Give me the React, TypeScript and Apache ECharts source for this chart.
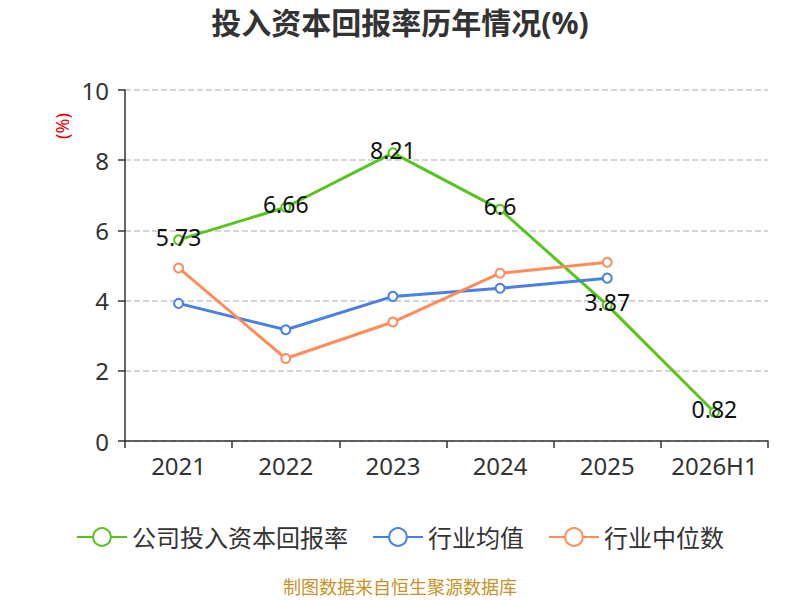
import React, { useEffect, useRef } from "react";
import * as echarts from "echarts";

const categories = ["2021", "2022", "2023", "2024", "2025", "2026H1"];
const companyROIC = [5.73, 6.66, 8.21, 6.6, 3.87, 0.82];
const industryAvg = [3.92, 3.17, 4.12, 4.35, 4.64, null];
const industryMedian = [4.93, 2.35, 3.39, 4.78, 5.09, null];

export default function App() {
  const ref = useRef<HTMLDivElement>(null);
  useEffect(() => {
    const chart = echarts.init(ref.current!, null, { renderer: "svg" });
    const font = "'Noto Sans', 'Noto Sans CJK SC', sans-serif";
    chart.setOption({
      animation: false,
      backgroundColor: "#fff",
      textStyle: { fontFamily: font },
      title: {
        text: "投入资本回报率历年情况(%)",
        left: "center",
        top: 2,
        textStyle: { fontSize: 30, fontWeight: "bold", color: "#333", fontFamily: font },
      },
      graphic: [
        {
          type: "text",
          x: 62,
          y: 126,
          rotation: Math.PI / 2,
          style: { text: "(%)", fill: "#e00", fontSize: 18, fontFamily: font, align: "center", verticalAlign: "middle" },
        },
        {
          type: "text",
          left: "center",
          top: 578,
          style: { text: "制图数据来自恒生聚源数据库", fill: "#c8922a", fontSize: 18, fontFamily: font },
        },
      ],
      legend: {
        top: 520,
        left: "center",
        itemWidth: 50,
        itemHeight: 22,
        itemGap: 24,
        textStyle: { fontSize: 24, color: "#333", fontFamily: font },
        data: ["公司投入资本回报率", "行业均值", "行业中位数"],
      },
      grid: { left: 125, right: 32, top: 90, bottom: 159 },
      xAxis: {
        type: "category",
        data: categories,
        axisLine: { lineStyle: { color: "#333", width: 1.5 } },
        axisTick: { show: true, alignWithLabel: false, interval: 0, length: 7, lineStyle: { color: "#333", width: 1.5 } },
        axisLabel: { fontSize: 24, color: "#333", margin: 12, interval: 0, hideOverlap: false },
      },
      yAxis: {
        type: "value",
        min: 0,
        max: 10,
        interval: 2,
        axisLine: { show: true, lineStyle: { color: "#333", width: 1.5 } },
        axisTick: { show: true, length: 7, lineStyle: { color: "#333", width: 1.5 } },
        axisLabel: { fontSize: 24, color: "#333", margin: 16 },
        splitLine: { lineStyle: { type: "dashed", color: "#c8c8c8", width: 1.5 } },
      },
      series: [
        {
          name: "公司投入资本回报率",
          type: "line",
          data: companyROIC,
          color: "#5ac41e",
          lineStyle: { width: 3 },
          symbol: "emptyCircle",
          symbolSize: 9,
          z: 3,
          label: { show: true, position: "inside", offset: [0, -3], fontSize: 23, color: "#111" },
        },
        {
          name: "行业均值",
          type: "line",
          data: industryAvg,
          color: "#4a80e2",
          lineStyle: { width: 3 },
          symbol: "emptyCircle",
          symbolSize: 9,
        },
        {
          name: "行业中位数",
          type: "line",
          data: industryMedian,
          color: "#ff8c5a",
          lineStyle: { width: 3 },
          symbol: "emptyCircle",
          symbolSize: 9,
        },
      ],
    });
    return () => chart.dispose();
  }, []);
  return <div ref={ref} style={{ position: "fixed", left: 0, top: 0, width: 800, height: 600 }} />;
}
